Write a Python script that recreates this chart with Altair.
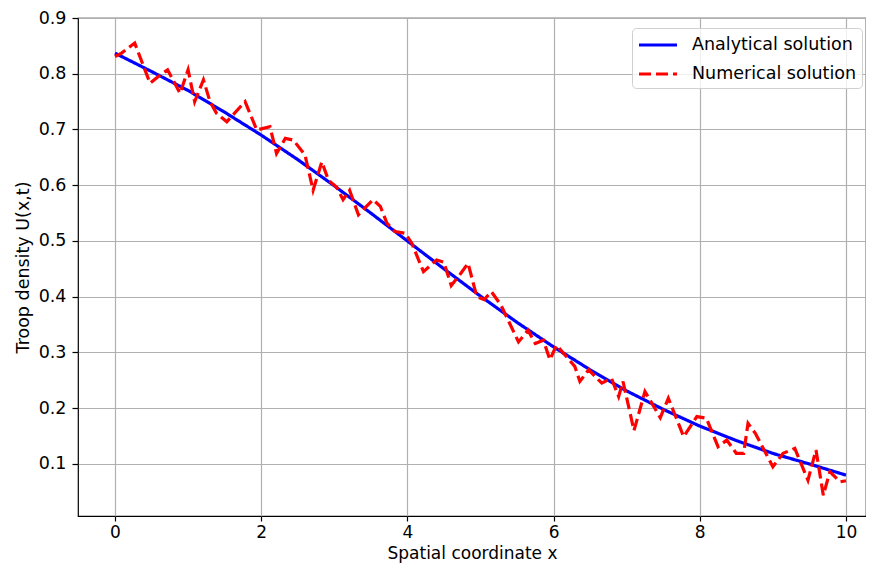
import altair as alt
import pandas as pd

# Analytical solution
ana_x = [0, 0.5, 1, 1.5, 2, 2.5, 3, 3.5, 4, 4.5, 5, 5.5, 6, 6.5, 7, 7.5, 8, 8.5, 9, 9.5, 10]
ana_y = [0.837, 0.804, 0.770, 0.731, 0.690, 0.646, 0.599, 0.550, 0.500, 0.450, 0.401,
         0.354, 0.310, 0.269, 0.231, 0.198, 0.168, 0.142, 0.119, 0.100, 0.080]

# Numerical solution
num_x = [0, 0.09, 0.27, 0.48, 0.62, 0.72, 0.89, 1.0, 1.09, 1.21, 1.3, 1.39, 1.53, 1.78, 1.94,
         2.12, 2.21, 2.33, 2.44, 2.6, 2.71, 2.83, 2.92, 3.03, 3.12, 3.21, 3.33, 3.44, 3.53, 3.63,
         3.72, 3.83, 3.97, 4.06, 4.22, 4.4, 4.5, 4.6, 4.72, 4.83, 4.95, 5.05, 5.15, 5.28, 5.4,
         5.52, 5.65, 5.75, 5.86, 5.95, 6.04, 6.18, 6.29, 6.36, 6.48, 6.66, 6.79, 6.89, 6.95, 7.1,
         7.25, 7.46, 7.57, 7.78, 7.96, 8.09, 8.25, 8.37, 8.5, 8.6, 8.66, 8.76, 9.0, 9.14, 9.3,
         9.48, 9.59, 9.69, 9.78, 9.92, 10.0]
num_y = [0.831, 0.837, 0.855, 0.783, 0.798, 0.807, 0.765, 0.807, 0.75, 0.789, 0.75, 0.729, 0.714,
         0.75, 0.699, 0.705, 0.657, 0.684, 0.681, 0.654, 0.591, 0.642, 0.609, 0.597, 0.574, 0.591,
         0.547, 0.562, 0.574, 0.562, 0.532, 0.517, 0.514, 0.496, 0.445, 0.466, 0.462, 0.42, 0.44,
         0.46, 0.4, 0.395, 0.409, 0.385, 0.352, 0.319, 0.34, 0.316, 0.322, 0.287, 0.313, 0.292,
         0.275, 0.248, 0.269, 0.245, 0.254, 0.221, 0.248, 0.16, 0.23, 0.183, 0.218, 0.149, 0.185,
         0.182, 0.131, 0.143, 0.119, 0.119, 0.173, 0.155, 0.095, 0.119, 0.128, 0.071, 0.125,
         0.044, 0.086, 0.068, 0.07]

series_names = ["Analytical solution", "Numerical solution"]
x_ticks = [0, 2, 4, 6, 8, 10]
y_ticks = [0.1, 0.2, 0.3, 0.4, 0.5, 0.6, 0.7, 0.8, 0.9]

ana = pd.DataFrame({"x": ana_x, "y": ana_y, "series": series_names[0]})
num = pd.DataFrame({"x": num_x, "y": num_y, "series": series_names[1]})

FONT = "DejaVu Sans"

xenc = alt.X("x:Q", scale=alt.Scale(domain=[-0.506, 10.274], nice=False, zero=False),
             axis=alt.Axis(values=x_ticks, format="d", title="Spatial coordinate x"))
yenc = alt.Y("y:Q", scale=alt.Scale(domain=[0.0067, 0.9], nice=False, zero=False),
             axis=alt.Axis(values=y_ticks, format=".1f", title="Troop density U(x,t)"))
leg = alt.Legend(title=None, orient="none", legendX=554, legendY=10)
color = alt.Color("series:N",
                  scale=alt.Scale(domain=series_names, range=["#0000ff", "#ff0000"]),
                  legend=leg)
dash = alt.StrokeDash("series:N",
                      scale=alt.Scale(domain=series_names, range=[[1, 0], [12, 5]]),
                      legend=leg)

l1 = alt.Chart(ana).mark_line(strokeWidth=3.2).encode(x=xenc, y=yenc, color=color, strokeDash=dash)
l2 = alt.Chart(num).mark_line(strokeWidth=3.2).encode(x=xenc, y=yenc, color=color, strokeDash=dash)

chart = alt.layer(l1, l2).properties(
    width=788, height=498,
    autosize=alt.AutoSizeParams(type="none"),
    padding={"left": 70, "top": 10, "right": 0, "bottom": 51},
).configure_view(
    stroke="black", strokeWidth=1.2
).configure_axis(
    grid=True, gridColor="#b0b0b0", gridWidth=1.2, domain=False,
    tickColor="black", tickSize=6, tickWidth=1.2,
    labelFont=FONT, labelFontSize=17.5, labelColor="black", labelPadding=6,
    titleFont=FONT, titleFontSize=17.5, titleFontWeight="normal", titleColor="black",
    titlePadding=6,
).configure_axisX(
    tickSize=5, labelPadding=3, titlePadding=5, labelFontSize=17, titleFontSize=17,
).configure_legend(
    symbolType="M-1,0L2.8,0", symbolStrokeWidth=3.2, symbolSize=400,
    labelFont=FONT, labelFontSize=17.5, labelColor="black", labelOffset=31, labelLimit=0,
    fillColor="rgba(255,255,255,0.8)", strokeColor="#d0d0d0", cornerRadius=4,
    padding=5, rowPadding=8,
)

chart.save("out.html", embed_options={"renderer": "svg", "actions": False})
